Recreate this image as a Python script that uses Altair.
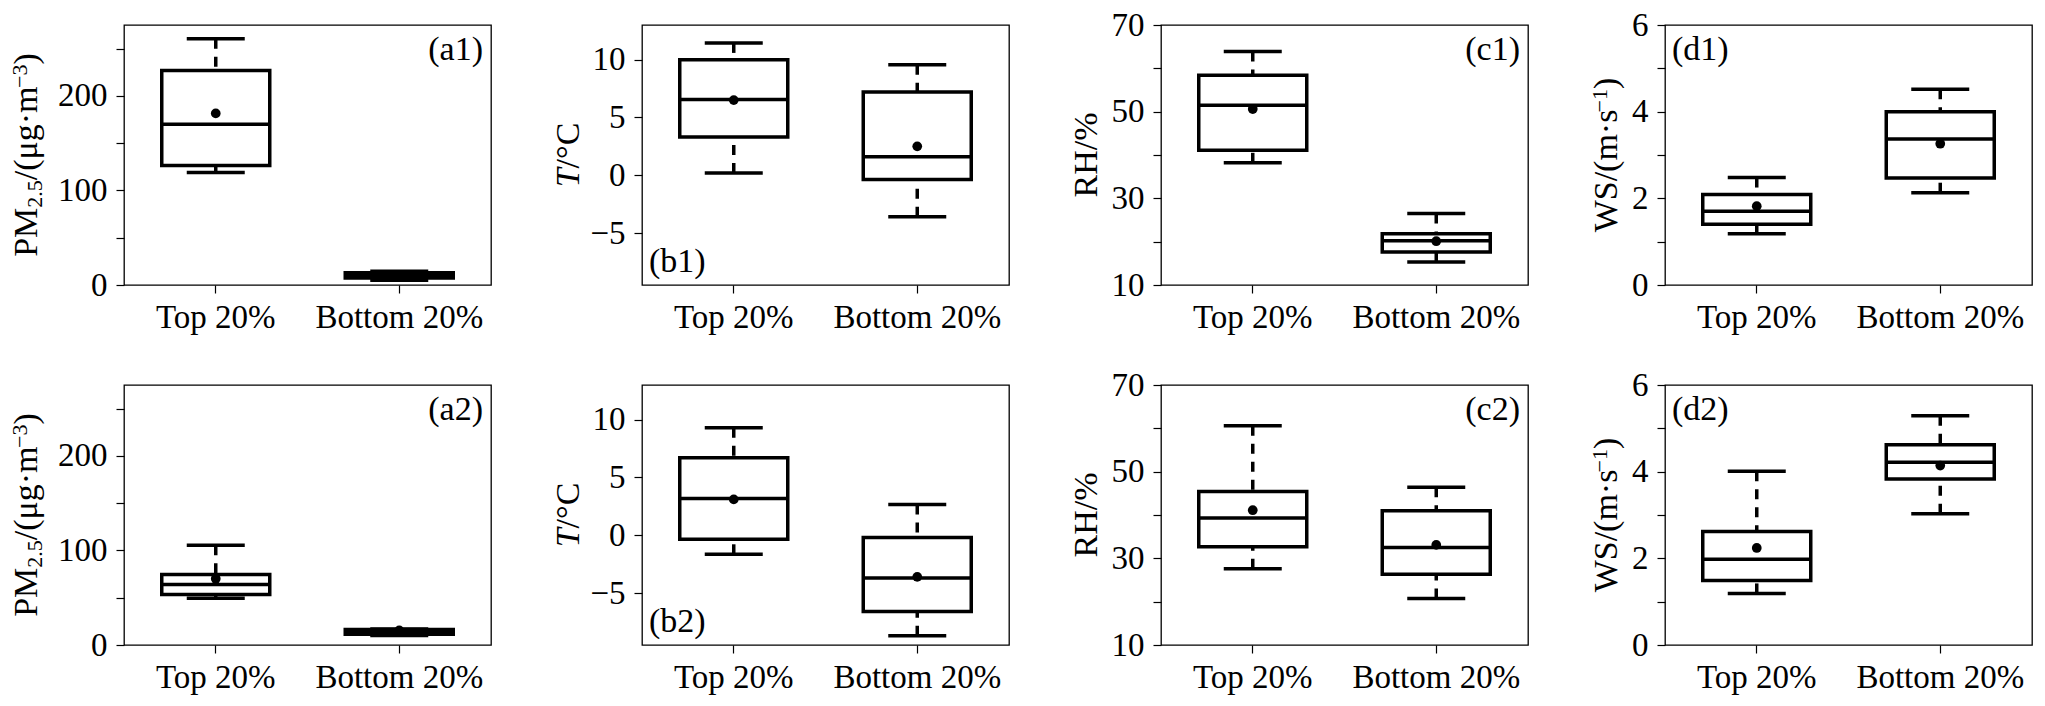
import altair as alt
import pandas as pd

FONT = "Liberation Serif"

categories = ["Top 20%", "Bottom 20%"]
stat_names = ["min", "q1", "median", "q3", "max", "mean"]

# PM2.5
pm1_top = [119, 126.5, 170, 227, 260.5, 181.5]
pm1_bottom = [5, 7.5, 10, 13, 14.5, 10]
pm2_top = [49.5, 53.5, 64, 74.5, 105.5, 70]
pm2_bottom = [10, 11.5, 14, 16.5, 17, 15.5]
# Temperature
t1_top = [0.2, 3.3, 6.55, 10.0, 11.45, 6.5]
t1_bottom = [-3.6, -0.37, 1.6, 7.2, 9.55, 2.5]
t2_top = [-1.65, -0.35, 3.17, 6.7, 9.3, 3.1]
t2_bottom = [-8.7, -6.6, -3.7, -0.2, 2.65, -3.6]
# Relative humidity
rh1_top = [38.2, 41.1, 51.5, 58.4, 63.9, 50.6]
rh1_bottom = [15.3, 17.6, 20.2, 21.85, 26.5, 20.1]
rh2_top = [27.6, 32.7, 39.3, 45.4, 60.6, 41.1]
rh2_bottom = [20.75, 26.3, 32.5, 41.0, 46.4, 33.1]
# Wind speed
ws1_top = [1.18, 1.40, 1.70, 2.09, 2.48, 1.82]
ws1_bottom = [2.13, 2.47, 3.37, 4.0, 4.52, 3.26]
ws2_top = [1.19, 1.49, 1.98, 2.62, 4.01, 2.24]
ws2_bottom = [3.03, 3.83, 4.22, 4.62, 5.29, 4.14]

pm_domain = [0, 275]
pm_ticks = [0, 50, 100, 150, 200, 250]
pm_labels = [0, 100, 200]
t_domain = [-9.5, 13]
t_ticks = [-5, 0, 5, 10]
t_labels = [-5, 0, 5, 10]
rh_domain = [10, 70]
rh_ticks = [10, 20, 30, 40, 50, 60, 70]
rh_labels = [10, 30, 50, 70]
ws_domain = [0, 6]
ws_ticks = [0, 1, 2, 3, 4, 5, 6]
ws_labels = [0, 2, 4, 6]

pm_title = ["PM", "2.5", "/(\u03bcg\u00b7m", "\u22123", ")"]
t_title = ["T", "/\u00b0C"]
rh_title = ["RH/%"]
ws_title = ["WS/(m\u00b7s", "\u22121", ")"]

tags = ["(a1)", "(b1)", "(c1)", "(d1)", "(a2)", "(b2)", "(c2)", "(d2)"]

W, H = 367, 260
MAIN, TITLE, SMALL = 33, 34, 22
LW = 3.5

# approximate Times/Liberation Serif advance widths (em)
ADV = {"P": .556, "M": .889, "2": .5, ".": .25, "5": .5, "/": .278, "(": .333,
       "\u03bc": .576, "g": .5, "\u00b7": .25, "m": .778, "\u2212": .564, "3": .5,
       ")": .333, "T": .556, "\u00b0": .4, "C": .667, "R": .667, "H": .722,
       "%": .833, "W": .944, "S": .556, "s": .389, "1": .5}


def text_width(s, size):
    return sum(ADV.get(c, .5) for c in s) * size


one = pd.DataFrame({"k": [0]})


def title_layers(pieces, styles, base_x):
    total = sum(text_width(p, st[0]) for p, st in zip(pieces, styles))
    y0 = H / 2 + total / 2
    out = []
    cum = 0
    for p, (size, shift, italic) in zip(pieces, styles):
        kw = dict(angle=270, align="left", baseline="alphabetic", fontSize=size,
                  font=FONT, color="black")
        if italic:
            kw["fontStyle"] = "italic"
        out.append(alt.Chart(one).mark_text(**kw).encode(
            x=alt.value(base_x + shift), y=alt.value(y0 - cum), text=alt.value(p)))
        cum += text_width(p, size)
    return out


def panel(top, bottom, domain, ticks, labels, pieces, styles, title_x, tag, tag_pos):
    df = pd.DataFrame([
        dict(zip(stat_names, top), cat=categories[0]),
        dict(zip(stat_names, bottom), cat=categories[1]),
    ])
    xenc = alt.X("cat:N", sort=categories,
                 scale=alt.Scale(domain=categories, paddingInner=0, paddingOuter=0),
                 axis=alt.Axis(title=None, labelAngle=0, labelPadding=8))
    yscale = alt.Scale(domain=domain, nice=False, zero=False)
    lab = "[" + ",".join(str(v) for v in labels) + "]"
    yaxis = alt.Axis(title=None, values=ticks, labelPadding=9, labelOverlap=False,
                     labelExpr=f"indexof({lab}, datum.value) >= 0 ? datum.label : ''")

    def Y(f):
        return alt.Y(f"{f}:Q", scale=yscale, axis=yaxis)

    base = alt.Chart(df)
    whisk_hi = base.mark_rule(strokeWidth=LW, strokeDash=[10, 8], color="black").encode(
        x=xenc, y=Y("max"), y2="q3")
    whisk_lo = base.mark_rule(strokeWidth=LW, strokeDash=[10, 8], color="black").encode(
        x=xenc, y=Y("min"), y2="q1")
    box = base.mark_bar(size=108, fill="white", stroke="black", strokeWidth=LW,
                        opacity=1).encode(x=xenc, y=Y("q1"), y2="q3")
    med = base.mark_tick(size=108, thickness=LW, color="black", opacity=1).encode(
        x=xenc, y=Y("median"))
    cap_hi = base.mark_tick(size=58, thickness=LW, color="black", opacity=1).encode(
        x=xenc, y=Y("max"))
    cap_lo = base.mark_tick(size=58, thickness=LW, color="black", opacity=1).encode(
        x=xenc, y=Y("min"))
    mean = base.mark_circle(size=95, color="black", opacity=1).encode(
        x=xenc, y=Y("mean"))

    if tag_pos == "tr":
        tx, ty, al = W - 8, 35, "right"
    elif tag_pos == "tl":
        tx, ty, al = 7, 35, "left"
    else:
        tx, ty, al = 7, 247, "left"
    tag_layer = alt.Chart(one).mark_text(
        fontSize=TITLE, font=FONT, align=al, baseline="alphabetic", color="black"
    ).encode(x=alt.value(tx), y=alt.value(ty), text=alt.value(tag))

    layers = [whisk_hi, whisk_lo, box, med, cap_hi, cap_lo, mean, tag_layer]
    layers += title_layers(pieces, styles, title_x)
    return alt.layer(*layers).properties(width=W, height=H)


pm_styles = [(TITLE, 0, False), (SMALL, 5, False), (TITLE, 0, False), (SMALL, -10, False), (TITLE, 0, False)]
t_styles = [(TITLE, 0, True), (TITLE, 0, False)]
rh_styles = [(TITLE, 0, False)]
ws_styles = [(TITLE, 0, False), (SMALL, -10, False), (TITLE, 0, False)]

TX_A, TX_B, TX_C, TX_D = -87, -63, -64, -48

panels = [
    panel(pm1_top, pm1_bottom, pm_domain, pm_ticks, pm_labels, pm_title, pm_styles, TX_A, tags[0], "tr"),
    panel(t1_top, t1_bottom, t_domain, t_ticks, t_labels, t_title, t_styles, TX_B, tags[1], "bl"),
    panel(rh1_top, rh1_bottom, rh_domain, rh_ticks, rh_labels, rh_title, rh_styles, TX_C, tags[2], "tr"),
    panel(ws1_top, ws1_bottom, ws_domain, ws_ticks, ws_labels, ws_title, ws_styles, TX_D, tags[3], "tl"),
    panel(pm2_top, pm2_bottom, pm_domain, pm_ticks, pm_labels, pm_title, pm_styles, TX_A, tags[4], "tr"),
    panel(t2_top, t2_bottom, t_domain, t_ticks, t_labels, t_title, t_styles, TX_B, tags[5], "bl"),
    panel(rh2_top, rh2_bottom, rh_domain, rh_ticks, rh_labels, rh_title, rh_styles, TX_C, tags[6], "tr"),
    panel(ws2_top, ws2_bottom, ws_domain, ws_ticks, ws_labels, ws_title, ws_styles, TX_D, tags[7], "tl"),
]

chart = alt.concat(
    *panels, columns=4, spacing={"row": 33, "column": 59}, align="each", padding=0
).configure_view(
    stroke="black", strokeWidth=1.3
).configure_axis(
    domain=False, grid=False, tickColor="black", tickSize=8, tickWidth=1.2,
    labelFont=FONT, labelFontSize=MAIN, labelColor="black"
).properties(background="white")

chart.save("out.html", embed_options={"renderer": "svg", "actions": False})
